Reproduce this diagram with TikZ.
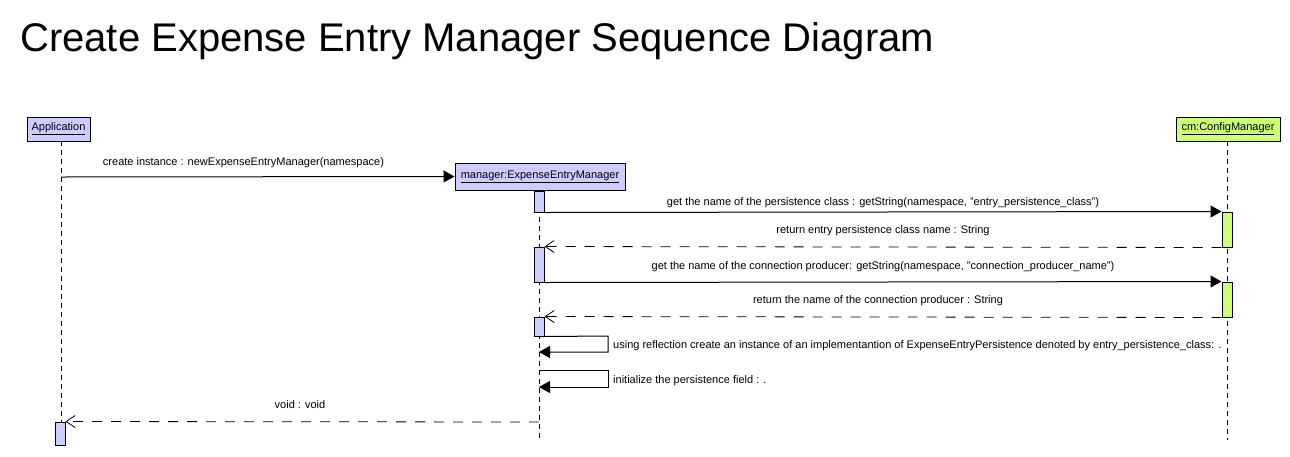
\documentclass[tikz,border=0pt]{standalone}
\usepackage{fontspec}
\setmainfont{Liberation Sans}
\usetikzlibrary{arrows.meta}
\definecolor{lav}{RGB}{204,204,255}
\definecolor{lgreen}{RGB}{204,255,119}
\begin{document}
\begin{tikzpicture}[x=1pt,y=-1pt,
  obj/.style={draw, line width=1pt, inner sep=0pt, font=\fontsize{11}{13}\selectfont},
  act/.style={draw, line width=1pt, fill=lav, minimum width=10pt, inner sep=0pt},
  life/.style={line width=0.8pt, dash pattern=on 5pt off 4pt},
  call/.style={line width=1pt, -{Triangle[length=11pt,width=12pt]}},
  ret/.style={line width=0.8pt, dash pattern=on 10pt off 9pt, -{Straight Barb[length=9pt,width=12pt,line width=0.8pt]}},
  lbl/.style={font=\fontsize{11}{13}\selectfont, inner sep=0pt, anchor=base}
]
\useasboundingbox (0,0) rectangle (1290,456);
% title
\node[anchor=base west, inner sep=0pt, font=\fontsize{40}{46}\selectfont] (title) at (20,51) {Create Expense Entry Manager Sequence Diagram};
% objects
\node[obj, fill=lav, minimum width=63pt, minimum height=24pt] (app) at (58.5,129) {\underline{Application}};
\node[obj, fill=lav, minimum width=170pt, minimum height=27pt] (mgr) at (540,176.5) {\underline{manager:ExpenseEntryManager}};
\node[obj, fill=lgreen, minimum width=104pt, minimum height=24pt] (cm) at (1228,129) {\underline{cm:ConfigManager}};
% lifeline ends
\coordinate (appL) at (61,141);
\coordinate (appE) at (61,422);
\coordinate (mgrL) at (539,190);
\coordinate (mgrE) at (539,440);
\coordinate (cmL) at (1227,141);
\coordinate (cmE) at (1227,440);
\draw[life] (appL) -- (appE);
\draw[life] (mgrL) -- (mgrE);
\draw[life] (cmL) -- (cmE);
% activations
\node[act, minimum height=21pt] (m1) at (539,201.5) {};
\node[act, minimum height=35pt] (m2) at (539,264.5) {};
\node[act, minimum height=19pt] (m3) at (539,326.5) {};
\node[act, fill=lgreen, minimum height=35pt] (c1) at (1227,229.5) {};
\node[act, fill=lgreen, minimum height=35pt] (c2) at (1227,299.5) {};
\node[act, minimum height=23pt] (a1) at (60,433.5) {};
% create
\coordinate (a0) at (61,177);
\draw[call] (a0) -- (mgr.west);
\node[lbl] (l0) at (243.5,165) {create instance : newExpenseEntryManager(namespace)};
% messages
\draw[call] (m1.south east) -- (c1.north west);
\node[lbl] (l1) at (883,205) {get the name of the persistence class : getString(namespace, "entry\_persistence\_class")};
\draw[ret] (c1.south west) -- (m2.north east);
\node[lbl] (l2) at (883,233) {return entry persistence class name : String};
\draw[call] (m2.south east) -- (c2.north west);
\node[lbl] (l3) at (883,269) {get the name of the connection producer: getString(namespace, "connection\_producer\_name")};
\draw[ret] (c2.south west) -- (m3.north east);
\node[lbl] (l4) at (878,303) {return the name of the connection producer : String};
% self messages
\coordinate (s1r) at (608,336);
\coordinate (s1e) at (539,352);
\draw[call] (m3.south east) -- (s1r) |- (s1e);
\node[lbl, anchor=base west] (l5) at (613,348) {using reflection create an instance of an implementantion of ExpenseEntryPersistence denoted by entry\_persistence\_class: .};
\coordinate (s2s) at (539,370);
\coordinate (s2r) at (608,370);
\coordinate (s2e) at (539,387);
\draw[call] (s2s) -- (s2r) |- (s2e);
\node[lbl, anchor=base west] (l6) at (613,383) {initialize the persistence field : .};
% return void
\coordinate (v0) at (539,422);
\draw[ret] (v0) -- (a1.north east);
\node[lbl] (l7) at (300,408) {void : void};
\end{tikzpicture}
\end{document}
